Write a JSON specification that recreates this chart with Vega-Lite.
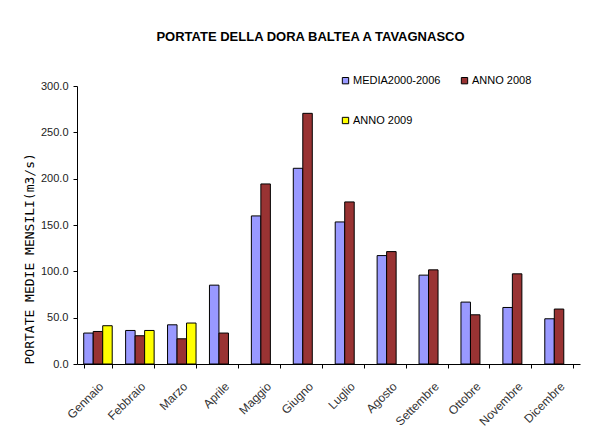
{
  "$schema": "https://vega.github.io/schema/vega-lite/v6.json",
  "width": 503,
  "height": 278,
  "autosize": "none",
  "padding": {"left": 77, "top": 86, "right": 12, "bottom": 83},
  "background": "white",
  "title": {
    "text": "PORTATE DELLA DORA BALTEA  A TAVAGNASCO",
    "font": "Liberation Sans",
    "fontSize": 13,
    "fontWeight": "bold",
    "color": "#000000",
    "anchor": "middle",
    "dx": -18,
    "offset": 31
  },
  "data": {
    "values": [
      {"mese": "Gennaio", "serie": "MEDIA2000-2006", "valore": 33.4},
      {"mese": "Gennaio", "serie": "ANNO 2008", "valore": 35.1},
      {"mese": "Gennaio", "serie": "ANNO 2009", "valore": 41.3},
      {"mese": "Febbraio", "serie": "MEDIA2000-2006", "valore": 36.2},
      {"mese": "Febbraio", "serie": "ANNO 2008", "valore": 30.5},
      {"mese": "Febbraio", "serie": "ANNO 2009", "valore": 36.2},
      {"mese": "Marzo", "serie": "MEDIA2000-2006", "valore": 42.3},
      {"mese": "Marzo", "serie": "ANNO 2008", "valore": 27.2},
      {"mese": "Marzo", "serie": "ANNO 2009", "valore": 44.2},
      {"mese": "Aprile", "serie": "MEDIA2000-2006", "valore": 85.1},
      {"mese": "Aprile", "serie": "ANNO 2008", "valore": 33.4},
      {"mese": "Maggio", "serie": "MEDIA2000-2006", "valore": 159.8},
      {"mese": "Maggio", "serie": "ANNO 2008", "valore": 194.3},
      {"mese": "Giugno", "serie": "MEDIA2000-2006", "valore": 211.2},
      {"mese": "Giugno", "serie": "ANNO 2008", "valore": 270.5},
      {"mese": "Luglio", "serie": "MEDIA2000-2006", "valore": 153.3},
      {"mese": "Luglio", "serie": "ANNO 2008", "valore": 174.9},
      {"mese": "Agosto", "serie": "MEDIA2000-2006", "valore": 117.0},
      {"mese": "Agosto", "serie": "ANNO 2008", "valore": 121.3},
      {"mese": "Settembre", "serie": "MEDIA2000-2006", "valore": 95.9},
      {"mese": "Settembre", "serie": "ANNO 2008", "valore": 101.6},
      {"mese": "Ottobre", "serie": "MEDIA2000-2006", "valore": 66.8},
      {"mese": "Ottobre", "serie": "ANNO 2008", "valore": 53.1},
      {"mese": "Novembre", "serie": "MEDIA2000-2006", "valore": 61.0},
      {"mese": "Novembre", "serie": "ANNO 2008", "valore": 97.3},
      {"mese": "Dicembre", "serie": "MEDIA2000-2006", "valore": 48.8},
      {"mese": "Dicembre", "serie": "ANNO 2008", "valore": 59.3}
    ]
  },
  "mark": {"type": "bar", "stroke": "#000000", "strokeWidth": 1},
  "encoding": {
    "x": {
      "field": "mese",
      "type": "nominal",
      "sort": ["Gennaio", "Febbraio", "Marzo", "Aprile", "Maggio", "Giugno", "Luglio", "Agosto", "Settembre", "Ottobre", "Novembre", "Dicembre"],
      "scale": {"paddingInner": 0.32, "paddingOuter": 0.16},
      "axis": {
        "title": null,
        "labelAngle": -45,
        "labelAlign": "right",
        "labelBaseline": "middle",
        "labelFont": "Liberation Sans",
        "labelFontSize": 12,
        "labelColor": "#333333",
        "labelPadding": 16,
        "labelOffset": 3,
        "tickBand": "extent",
        "tickSize": 4,
        "tickColor": "#000000",
        "domainColor": "#000000",
        "grid": false
      }
    },
    "xOffset": {
      "field": "serie",
      "type": "nominal",
      "sort": ["MEDIA2000-2006", "ANNO 2008", "ANNO 2009"],
      "scale": {"paddingInner": 0, "paddingOuter": 0}
    },
    "y": {
      "field": "valore",
      "type": "quantitative",
      "scale": {"domain": [0, 300], "nice": false},
      "axis": {
        "title": "PORTATE MEDIE MENSILI(m3/s)",
        "titleFont": "DejaVu Sans Mono",
        "titleFontSize": 13,
        "titleFontWeight": "normal",
        "titleColor": "#000000",
        "titleAnchor": "start",
        "titlePadding": 4,
        "values": [0, 50, 100, 150, 200, 250, 300],
        "format": ".1f",
        "labelFont": "Liberation Sans",
        "labelFontSize": 11,
        "labelColor": "#222222",
        "labelPadding": 5,
        "tickSize": 4,
        "tickColor": "#000000",
        "domainColor": "#000000",
        "grid": false
      }
    },
    "color": {
      "field": "serie",
      "type": "nominal",
      "scale": {
        "domain": ["MEDIA2000-2006", "ANNO 2008", "ANNO 2009"],
        "range": ["#9999FF", "#993333", "#FFFF00"]
      },
      "legend": {
        "title": null,
        "orient": "none",
        "legendX": 263,
        "legendY": -11,
        "direction": "horizontal",
        "columns": 2,
        "columnPadding": 18,
        "rowPadding": 28,
        "symbolType": "square",
        "symbolSize": 40,
        "symbolStrokeColor": "#000000",
        "symbolStrokeWidth": 1,
        "labelFont": "Liberation Sans",
        "labelFontSize": 11,
        "labelColor": "#000000",
        "labelOffset": 2
      }
    }
  },
  "config": {
    "view": {"stroke": null}
  }
}
